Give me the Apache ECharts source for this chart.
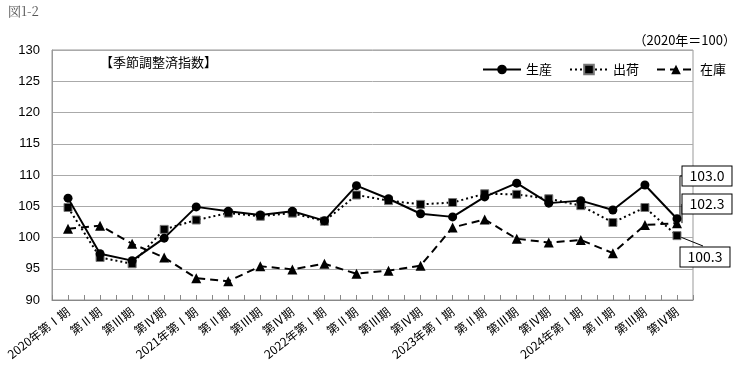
<!DOCTYPE html>
<html><head><meta charset="utf-8">
<script src="https://cdn.jsdelivr.net/npm/echarts@6/dist/echarts.min.js"></script>
<style>html,body{margin:0;padding:0;background:#fff}#c{width:740px;height:370px}</style>
</head><body><div id="c"></div>
<script>
const categories = ['2020年第Ⅰ期','第Ⅱ期','第Ⅲ期','第Ⅳ期','2021年第Ⅰ期','第Ⅱ期','第Ⅲ期','第Ⅳ期','2022年第Ⅰ期','第Ⅱ期','第Ⅲ期','第Ⅳ期','2023年第Ⅰ期','第Ⅱ期','第Ⅲ期','第Ⅳ期','2024年第Ⅰ期','第Ⅱ期','第Ⅲ期','第Ⅳ期'];
const production = [106.3,97.4,96.3,99.9,104.9,104.2,103.6,104.2,102.7,108.3,106.2,103.8,103.3,106.5,108.7,105.5,105.9,104.4,108.4,103.0];
const shipments  = [104.8,96.8,95.8,101.3,102.8,103.9,103.4,103.9,102.6,106.8,105.9,105.3,105.6,107.0,106.9,106.2,105.1,102.4,104.8,100.3];
const inventory  = [101.4,101.9,99.0,96.8,93.5,93.0,95.4,94.9,95.8,94.2,94.7,95.5,101.6,102.9,99.8,99.2,99.6,97.5,102.0,102.3];
const yTicks = {min:90, max:130, interval:5};

const chart = echarts.init(document.getElementById('c'));
const last = categories.length - 1;
const labelStyle = {show:true, backgroundColor:'#fff', borderColor:'#000', borderWidth:1, padding:[3,7,2,7], fontSize:14, color:'#000', fontFamily:'Noto Sans CJK JP', formatter:p=>p.value.toFixed(1)};
function withLabel(arr){ return arr.map((v,i)=> i===last ? {value:v, label:labelStyle} : v); }
const labelPos = {prod:[707,176], inv:[707,204], ship:[705,257]};
function layoutAt(pos){
  return function(p){
    if(p.dataIndex!==last) return;
    return {x:pos[0], y:pos[1], align:'center', verticalAlign:'middle'};
  };
}
const tickCats = Array.from({length: categories.length*2}, (_, i) => String(i));

chart.setOption({
  animation:false,
  textStyle:{fontFamily:'Noto Sans CJK JP'},
  graphic:[
    {id:'fig', type:'text', left:8, top:5, style:{text:'図1-2', fontSize:13, fill:'#555', fontFamily:'Noto Serif CJK JP, Noto Sans CJK JP'}},
    {id:'base', type:'text', right:4, top:34, style:{text:'（2020年＝100）', fontSize:13, fill:'#000', fontFamily:'Noto Sans CJK JP'}},
    {id:'sub', type:'text', left:100, top:56, style:{text:'【季節調整済指数】', fontSize:13, fill:'#000', fontFamily:'Noto Sans CJK JP'}}
  ],
  legend:{
    top:58, left:477, itemWidth:38, itemHeight:12, itemGap:17,
    textStyle:{fontSize:13, color:'#000', fontFamily:'Noto Sans CJK JP'},
    data:['生産','出荷','在庫']
  },
  grid:{left:52, right:47, top:50, bottom:70, show:true, borderColor:'#999', borderWidth:1, backgroundColor:'transparent'},
  xAxis:[
    {type:'category', data:categories, boundaryGap:true,
     axisLine:{lineStyle:{color:'#888', width:1}},
     axisTick:{show:false},
     axisLabel:{rotate:38, fontSize:12, color:'#000', margin:10, interval:0, fontFamily:'Noto Sans CJK JP'}},
    {type:'category', data:tickCats, boundaryGap:true, position:'bottom',
     axisLine:{show:false}, axisLabel:{show:false},
     axisTick:{show:true, inside:true, length:5, interval:0, lineStyle:{color:'#888'}}}
  ],
  yAxis:{type:'value', min:yTicks.min, max:yTicks.max, interval:yTicks.interval,
    axisLine:{show:true, lineStyle:{color:'#999'}}, axisTick:{show:false},
    axisLabel:{fontSize:13, color:'#000', margin:12, fontFamily:'Liberation Sans'},
    splitLine:{lineStyle:{color:'#aaa', width:1}}},
  series:[
    {name:'在庫', type:'line', data:withLabel(inventory), symbol:'triangle', symbolSize:10,
     lineStyle:{color:'#000', width:2, type:[8,5]}, itemStyle:{color:'#000'},
     label:{show:false}, labelLayout:layoutAt(labelPos.inv), z:2},
    {name:'出荷', type:'line', data:withLabel(shipments), symbol:'rect', symbolSize:8,
     lineStyle:{color:'#000', width:2, type:[2,3]}, itemStyle:{color:'#000', borderColor:'#777', borderWidth:1},
     label:{show:false}, labelLayout:layoutAt(labelPos.ship), z:3},
    {name:'生産', type:'line', data:withLabel(production), symbol:'circle', symbolSize:9,
     lineStyle:{color:'#000', width:2}, itemStyle:{color:'#000'},
     label:{show:false}, labelLayout:layoutAt(labelPos.prod), z:4}
  ]
});

// leader lines from the last points (located through the chart's own scales) to the value boxes
const pProd = chart.convertToPixel({seriesIndex:2}, [last, production[last]]);
const pInv  = chart.convertToPixel({seriesIndex:0}, [last, inventory[last]]);
const pShip = chart.convertToPixel({seriesIndex:1}, [last, shipments[last]]);
const boxHalfW = 22, boxHalfH = 11;
const ls = {stroke:'#000', lineWidth:1, fill:null};
chart.setOption({graphic:[
  {id:'ldProd', type:'polyline', z:1, shape:{points:[[pProd[0]+3, pProd[1]], [pProd[0]+3, labelPos.prod[1]], [labelPos.prod[0]-boxHalfW, labelPos.prod[1]]]}, style:ls},
  {id:'ldInv', type:'polyline', z:1, shape:{points:[[pInv[0]+5, pInv[1]], [pInv[0]+5, labelPos.inv[1]], [labelPos.inv[0]-boxHalfW, labelPos.inv[1]]]}, style:ls},
  {id:'ldShip', type:'polyline', z:1, shape:{points:[[pShip[0], pShip[1]], [labelPos.ship[0]-2, labelPos.ship[1]-boxHalfH]]}, style:ls}
]});
</script></body></html>
